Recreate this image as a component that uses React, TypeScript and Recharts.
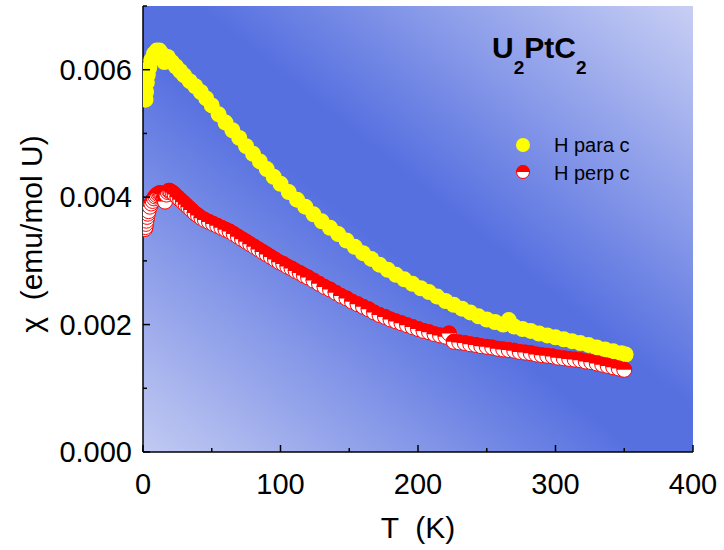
import React from 'react';
import { ScatterChart, Scatter, XAxis, YAxis, CartesianGrid } from 'recharts';

// Susceptibility of U2PtC2, field parallel to c
const paraT = [1.8, 2.2, 2.8, 3.5, 4.5, 6, 8, 10, 12, 14, 15.5, 18, 21, 24, 27, 30, 34, 38, 42, 46, 50, 55, 60, 65, 70, 75, 80, 85, 90, 95, 100, 106, 112, 118, 124, 130, 136, 142, 148, 154, 160, 166, 172, 178, 184, 190, 196, 202, 208, 214, 220, 226, 232, 238, 244, 250, 256, 262, 266, 270, 276, 282, 288, 294, 300, 306, 312, 318, 324, 330, 336, 342, 348, 351];
const paraChi = [0.00553, 0.00565, 0.0058, 0.00592, 0.00603, 0.00615, 0.00625, 0.0063, 0.0063, 0.00624, 0.00612, 0.0062, 0.00612, 0.00605, 0.00598, 0.00591, 0.00582, 0.00574, 0.00565, 0.00555, 0.00544, 0.0053, 0.00517, 0.00505, 0.00493, 0.0048, 0.00468, 0.00456, 0.00444, 0.00432, 0.00421, 0.00408, 0.00396, 0.00385, 0.00373, 0.00362, 0.00352, 0.00342, 0.00332, 0.00322, 0.00312, 0.00303, 0.00294, 0.00286, 0.00278, 0.00271, 0.00264, 0.00257, 0.00251, 0.00244, 0.00237, 0.00231, 0.00225, 0.00219, 0.00213, 0.00208, 0.00204, 0.002, 0.00207, 0.00197, 0.00193, 0.0019, 0.00186, 0.00183, 0.0018, 0.00177, 0.00174, 0.00171, 0.00168, 0.00164, 0.00161, 0.00158, 0.00155, 0.00153];

// field perpendicular to c
const perpT = [1.5, 1.8, 2.1, 2.5, 3, 3.5, 4, 5, 6, 7, 8, 9, 10, 11, 12, 13, 14, 15, 16, 17, 18, 19, 20, 21.5, 23, 25, 27, 29, 31, 33, 35, 37.5, 40, 42.5, 45, 48, 51, 54, 57, 60, 63, 66, 69, 72, 75, 78, 81, 84, 87, 90, 93, 96, 99, 102, 105, 108, 111, 114, 117, 120, 124, 128, 132, 136, 140, 144, 148, 152, 156, 160, 164, 168, 172, 176, 180, 184, 188, 192, 196, 200, 204, 208, 212, 216, 220, 222.5, 226, 230, 234, 238, 242, 246, 250, 254, 258, 262, 266, 270, 274, 278, 282, 286, 290, 294, 298, 302, 306, 310, 314, 318, 322, 326, 330, 334, 338, 342, 346, 350];
const perpChi = [0.0035, 0.00353, 0.00358, 0.00363, 0.00369, 0.00374, 0.00378, 0.00385, 0.0039, 0.00394, 0.00398, 0.00401, 0.00403, 0.00405, 0.00406, 0.00406, 0.00404, 0.00398, 0.00393, 0.00404, 0.00408, 0.0041, 0.00409, 0.00407, 0.00404, 0.004, 0.00396, 0.00392, 0.00388, 0.00384, 0.0038, 0.00375, 0.00371, 0.00367, 0.00364, 0.00361, 0.00358, 0.00355, 0.00352, 0.00349, 0.00346, 0.00342, 0.00338, 0.00334, 0.0033, 0.00326, 0.00322, 0.00318, 0.00314, 0.0031, 0.00306, 0.00302, 0.00298, 0.00295, 0.00291, 0.00288, 0.00284, 0.00281, 0.00277, 0.00274, 0.00269, 0.00264, 0.00259, 0.00255, 0.0025, 0.00245, 0.00241, 0.00236, 0.00232, 0.00228, 0.00224, 0.00219, 0.00215, 0.00212, 0.00208, 0.00205, 0.00202, 0.00199, 0.00196, 0.00193, 0.0019, 0.00188, 0.00185, 0.00183, 0.00181, 0.00186, 0.00173, 0.00172, 0.00171, 0.00169, 0.00168, 0.00166, 0.00165, 0.00164, 0.00162, 0.00161, 0.0016, 0.00159, 0.00157, 0.00156, 0.00155, 0.00153, 0.00152, 0.00151, 0.0015, 0.00148, 0.00147, 0.00146, 0.00145, 0.00144, 0.00142, 0.00141, 0.00139, 0.00137, 0.00135, 0.00133, 0.00131, 0.00129];

const xTicks = [0, 50, 100, 150, 200, 250, 300, 350, 400];
const yTicks = [0, 0.001, 0.002, 0.003, 0.004, 0.005, 0.006, 0.007];

const paraData = paraT.map((t, i) => ({ t, chi: paraChi[i] }));
const perpData = perpT.map((t, i) => ({ t, chi: perpChi[i] }));

const FONT = "'Liberation Sans', Arial, sans-serif";

const YellowDot = (props: any) => (
  <circle cx={props.cx} cy={props.cy} r={props.r ?? 8} fill="#ffff00" />
);

// half-filled marker: red on top, white underneath
const HalfDot = (props: any) => {
  const { cx, cy } = props;
  const r = props.r ?? 8;
  return (
    <g>
      <circle cx={cx} cy={cy} r={r - 0.5} fill="#fff" stroke="#ff0000" strokeWidth={1} />
      <path d={`M${cx - r} ${cy} A${r} ${r} 0 0 1 ${cx + r} ${cy} Z`} fill="#ff0000" />
    </g>
  );
};

const isMajorX = (v: number) => v % 100 === 0;
const isMajorY = (v: number) => Math.round(v * 1000) % 2 === 0;

const BottomTick = (props: any) => {
  const { x, y, payload } = props;
  const major = isMajorX(payload.value);
  return (
    <g>
      <line x1={x} x2={x} y1={y} y2={y - (major ? 7 : 4)} stroke="#000" strokeWidth={1.5} />
      {major && (
        <text x={x} y={y + 42} textAnchor="middle" fontSize={29} fontFamily={FONT} fill="#000">
          {payload.value}
        </text>
      )}
    </g>
  );
};

const TopTick = (props: any) => {
  const { x, y, payload } = props;
  const major = isMajorX(payload.value);
  return <line x1={x} x2={x} y1={y} y2={y + (major ? 7 : 4)} stroke="#000" strokeWidth={1.5} />;
};

const LeftTick = (props: any) => {
  const { x, y, payload } = props;
  const major = isMajorY(payload.value);
  return (
    <g>
      <line x1={x} x2={x + (major ? 7 : 4)} y1={y} y2={y} stroke="#000" strokeWidth={1.5} />
      {major && (
        <text x={x - 11} y={y + 10} textAnchor="end" fontSize={29} fontFamily={FONT} fill="#000">
          {payload.value.toFixed(3)}
        </text>
      )}
    </g>
  );
};

const RightTick = (props: any) => {
  const { x, y, payload } = props;
  const major = isMajorY(payload.value);
  return <line x1={x} x2={x - (major ? 7 : 4)} y1={y} y2={y} stroke="#000" strokeWidth={1.5} />;
};

export default function App() {
  return (
    <div style={{ position: 'absolute', left: 0, top: 0, width: 724, height: 550, background: '#fff' }}>
      <ScatterChart width={724} height={550} margin={{ top: 6, right: 31, bottom: 0, left: 0 }}>
        <defs>
          <linearGradient id="bg" x1="0" y1="1" x2="1" y2="0">
            <stop offset="0" stopColor="#c2caf2" />
            <stop offset="0.45" stopColor="#5670e0" />
            <stop offset="0.55" stopColor="#5670e0" />
            <stop offset="1" stopColor="#c8cff4" />
          </linearGradient>
        </defs>
        <CartesianGrid fill="url(#bg)" horizontal={false} vertical={false} />
        <XAxis
          xAxisId="b"
          dataKey="t"
          type="number"
          domain={[0, 400]}
          allowDataOverflow
          ticks={xTicks}
          interval={0}
          tickSize={0}
          tickMargin={0}
          tickLine={false}
          height={98}
          tick={<BottomTick />}
          axisLine={{ stroke: '#000', strokeWidth: 1.5 }}
        />
        <XAxis
          xAxisId="t"
          orientation="top"
          type="number"
          domain={[0, 400]}
          allowDataOverflow
          ticks={xTicks}
          interval={0}
          tickSize={0}
          tickMargin={0}
          tickLine={false}
          height={0}
          tick={<TopTick />}
          axisLine={{ stroke: '#000', strokeWidth: 1.5 }}
        />
        <YAxis
          yAxisId="l"
          dataKey="chi"
          type="number"
          domain={[0, 0.007]}
          allowDataOverflow
          ticks={yTicks}
          interval={0}
          tickSize={0}
          tickMargin={0}
          tickLine={false}
          width={143}
          tick={<LeftTick />}
          axisLine={{ stroke: '#000', strokeWidth: 1.5 }}
        />
        <YAxis
          yAxisId="r"
          orientation="right"
          type="number"
          domain={[0, 0.007]}
          allowDataOverflow
          ticks={yTicks}
          interval={0}
          tickSize={0}
          tickMargin={0}
          tickLine={false}
          width={0}
          tick={<RightTick />}
          axisLine={{ stroke: '#000', strokeWidth: 1.5 }}
        />
        <Scatter xAxisId="b" yAxisId="l" data={paraData} shape={YellowDot} isAnimationActive={false} />
        <Scatter xAxisId="b" yAxisId="l" data={perpData} shape={HalfDot} isAnimationActive={false} />
      </ScatterChart>

      {/* titles, formula and legend on top of the chart */}
      <svg width={724} height={550} style={{ position: 'absolute', left: 0, top: 0, pointerEvents: 'none' }}>
        <text x={418} y={538} textAnchor="middle" fontSize={30} fontFamily={FONT} fill="#000" xmlSpace="preserve">
          T  (K)
        </text>
        <text
          transform="translate(42 234) rotate(-90)"
          textAnchor="middle"
          fontSize={30}
          fontFamily={FONT}
          fill="#000"
          xmlSpace="preserve"
        >
          {'\u03c7  (emu/mol U)'}
        </text>
        <text x={492} y={58} fontSize={30} fontWeight="bold" fontFamily={FONT} fill="#000">
          U<tspan fontSize={19} dy={16}>2</tspan>
          <tspan dy={-16}>PtC</tspan>
          <tspan fontSize={19} dy={16}>2</tspan>
        </text>
        <YellowDot cx={523} cy={145} r={7} />
        <text x={554} y={152} fontSize={20} fontFamily={FONT} fill="#000">H para c</text>
        <HalfDot cx={523} cy={172} r={7} />
        <text x={554} y={180} fontSize={20} fontFamily={FONT} fill="#000">H perp c</text>
      </svg>
    </div>
  );
}
